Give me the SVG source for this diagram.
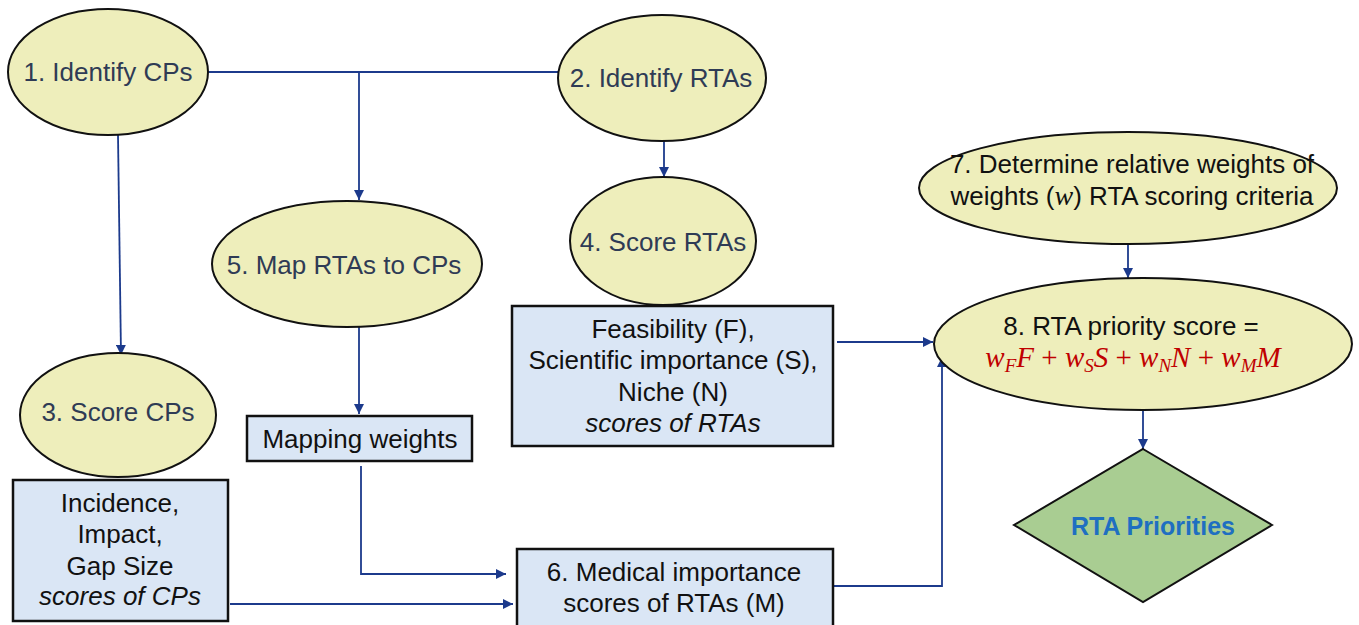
<svg xmlns="http://www.w3.org/2000/svg" width="1359" height="625" viewBox="0 0 1359 625">
<defs>
<marker id="arr" viewBox="0 0 10 10" refX="10" refY="5" markerWidth="10" markerHeight="10" markerUnits="userSpaceOnUse" orient="auto">
<path d="M0,0 L10,5 L0,10 z" fill="#1c3a8c"/>
</marker>
<style>
.ell{fill:#eeeebb;stroke:#111;stroke-width:2}
.box{fill:#dae6f5;stroke:#111;stroke-width:2.5}
.t{font-family:"Liberation Sans",Arial,sans-serif;font-size:26px;text-anchor:middle;fill:#2f3b55}
.k{font-family:"Liberation Sans",Arial,sans-serif;font-size:26px;text-anchor:middle;fill:#111}
.c{fill:none;stroke:#1c3a8c;stroke-width:1.8}
.m{font-family:"Liberation Serif","Times New Roman",serif;font-style:italic}
</style>
</defs>
<g id="connectors">
<path class="c" d="M207,72 H560"/>
<path class="c" d="M359,72 V200" marker-end="url(#arr)"/>
<path class="c" d="M118,135 L121,355" marker-end="url(#arr)"/>
<path class="c" d="M664,137 V177" marker-end="url(#arr)"/>
<path class="c" d="M359,327 V414" marker-end="url(#arr)"/>
<path class="c" d="M361,466 V574 H506" marker-end="url(#arr)"/>
<path class="c" d="M230,604 H513" marker-end="url(#arr)"/>
<path class="c" d="M837,342 H933" marker-end="url(#arr)"/>
<path class="c" d="M834,586 H942 V357" marker-end="url(#arr)"/>
<path class="c" d="M1128,243 V278" marker-end="url(#arr)"/>
<path class="c" d="M1143,410 V449" marker-end="url(#arr)"/>
</g>
<g id="n1">
<ellipse class="ell" cx="108" cy="72" rx="100" ry="63"/>
<text class="t" x="108" y="81">1. Identify CPs</text>
</g>
<g id="n2">
<ellipse class="ell" cx="662" cy="78" rx="104" ry="63"/>
<text class="t" x="661" y="87">2. Identify RTAs</text>
</g>
<g id="n4">
<ellipse class="ell" cx="663" cy="241" rx="93" ry="64"/>
<text class="t" x="663" y="251">4. Score RTAs</text>
</g>
<g id="n5">
<ellipse class="ell" cx="347" cy="264" rx="135" ry="63"/>
<text class="t" x="344" y="274">5. Map RTAs to CPs</text>
</g>
<g id="n3">
<ellipse class="ell" cx="118" cy="415" rx="98" ry="62"/>
<text class="t" x="118" y="421">3. Score CPs</text>
</g>
<g id="mapping">
<rect class="box" x="247" y="416" width="225" height="45"/>
<text class="k" x="360" y="448">Mapping weights</text>
</g>
<g id="cpscores">
<rect class="box" x="13" y="480" width="215" height="141"/>
<text class="k" x="120" y="512">Incidence,</text>
<text class="k" x="120" y="543">Impact,</text>
<text class="k" x="120" y="575">Gap Size</text>
<text class="k" x="120" y="605" font-style="italic">scores of CPs</text>
</g>
<g id="rtascores">
<rect class="box" x="512" y="306" width="321" height="140"/>
<text class="k" x="673" y="338">Feasibility (F),</text>
<text class="k" x="673" y="369">Scientific importance (S),</text>
<text class="k" x="673" y="401">Niche (N)</text>
<text class="k" x="673" y="432" font-style="italic">scores of RTAs</text>
</g>
<g id="n6">
<rect class="box" x="517" y="549" width="316" height="80"/>
<text class="k" x="674" y="581">6. Medical importance</text>
<text class="k" x="674" y="612">scores of RTAs (M)</text>
</g>
<g id="n7">
<ellipse class="ell" cx="1128" cy="188" rx="209" ry="56"/>
<text class="k" x="1132" y="173">7. Determine relative weights of</text>
<text class="k" x="1132" y="205">weights (<tspan class="m" font-size="28">w</tspan>) RTA scoring criteria</text>
</g>
<g id="n8">
<ellipse class="ell" cx="1143" cy="344" rx="209" ry="66"/>
<text class="k" x="1131" y="335">8. RTA priority score =</text>
<text x="1133" y="367" text-anchor="middle" font-family="Liberation Serif,'Times New Roman',serif" font-size="29" fill="#c00000"><tspan font-style="italic">w</tspan><tspan font-style="italic" font-size="19" dy="5">F</tspan><tspan font-style="italic" dy="-5">F</tspan> + <tspan font-style="italic">w</tspan><tspan font-style="italic" font-size="19" dy="5">S</tspan><tspan font-style="italic" dy="-5">S</tspan> + <tspan font-style="italic">w</tspan><tspan font-style="italic" font-size="19" dy="5">N</tspan><tspan font-style="italic" dy="-5">N</tspan> + <tspan font-style="italic">w</tspan><tspan font-style="italic" font-size="19" dy="5">M</tspan><tspan font-style="italic" dy="-5">M</tspan></text>
</g>
<g id="priorities">
<polygon points="1143,449 1272,525 1143,602 1014,525" fill="#a9cd92" stroke="#111" stroke-width="2"/>
<text x="1153" y="535" text-anchor="middle" font-family="Liberation Sans,Arial,sans-serif" font-size="25" font-weight="bold" fill="#1f6fc1">RTA Priorities</text>
</g>
</svg>
